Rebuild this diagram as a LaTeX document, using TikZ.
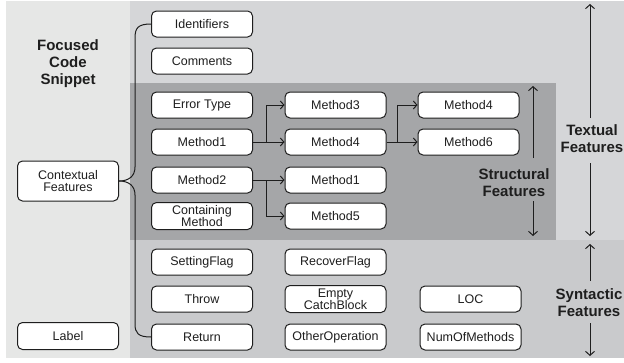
\documentclass[tikz,border=0pt]{standalone}
\usepackage{fontspec}
\setmainfont{Liberation Sans}
\usetikzlibrary{arrows.meta}
\definecolor{leftbg}{HTML}{E6E7E6}
\definecolor{textbg}{HTML}{D5D6D8}
\definecolor{structbg}{HTML}{A5A6A8}
\definecolor{syntbg}{HTML}{C9CACC}
\definecolor{ink}{HTML}{1E1E1E}
\begin{document}
\begin{tikzpicture}[x=1pt,y=-1pt,
  box/.style={draw=ink, fill=white, rounded corners=5pt, minimum width=101pt,
    minimum height=26pt, inner sep=1pt, align=center, text=ink,
    font=\fontsize{12.5}{12}\selectfont, line width=1pt},
  title/.style={align=center, text=ink, font=\fontsize{15}{17}\selectfont\bfseries},
  conn/.style={draw=ink, line width=1pt},
  arr/.style={conn, -{Straight Barb[length=3.5pt,width=8pt]}},
  biarr/.style={conn, line width=1pt, -{Straight Barb[length=4pt,width=9pt]}}]
\useasboundingbox (0,0) rectangle (624,362);
% backgrounds
\fill[leftbg] (6,1) rectangle (130,358);
\fill[textbg] (130,1) rectangle (624,240);
\fill[syntbg] (130,240) rectangle (624,358);
\fill[structbg] (130,83) rectangle (556,240);
% left column
\node[title] (focus) at (68,64) {Focused\\Code\\Snippet};
\node[box, minimum height=40pt] (ctx) at (68,181) {Contextual\\Features};
\node[box, minimum height=27pt] (lab) at (68,336) {Label};
% column 1
\node[box] (ident) at (202,24) {Identifiers};
\node[box] (comm) at (202,61) {Comments};
\node[box] (err) at (202,105) {Error Type};
\node[box] (ma) at (202,142) {Method1};
\node[box] (mb) at (202,180) {Method2};
\node[box, minimum height=27pt] (cont) at (202,216) {Containing\\Method};
\node[box] (setf) at (202,262) {SettingFlag};
\node[box] (thr) at (202,299) {Throw};
\node[box] (ret) at (202,337) {Return};
% column 2
\node[box] (mc) at (335.5,105) {Method3};
\node[box] (md) at (335.5,142) {Method4};
\node[box] (me) at (335.5,180) {Method1};
\node[box] (mf) at (335.5,216) {Method5};
\node[box] (recf) at (335.5,262) {RecoverFlag};
\node[box, minimum height=27pt] (empt) at (335.5,299) {Empty\\CatchBlock};
\node[box] (oth) at (335.5,337) {OtherOperation};
% column 3
\node[box] (mg) at (468.5,105) {Method4};
\node[box] (mh) at (468.5,142) {Method6};
\node[box] (loc) at (470.5,299) {LOC};
\node[box] (num) at (470.5,337) {NumOfMethods};
% brace
\draw[conn] (ident.west) .. controls (138,24) and (135,28) .. (135,38) -- (135,167)
  .. controls (135,176) and (129,181) .. (ctx.east);
\draw[conn] (ctx.east) .. controls (129,181) and (135,186) .. (135,195) -- (135,324)
  .. controls (135,333) and (138,337) .. (ret.west);
% structural arrows
\coordinate (j1) at (266,142);
\coordinate (j2) at (266,180);
\coordinate (j3) at (397,142);
\draw[conn] (ma.east) -- (j1);
\draw[arr] (j1) -- (md.west);
\draw[arr] (j1) |- (mc.west);
\draw[conn] (mb.east) -- (j2);
\draw[arr] (j2) -- (me.west);
\draw[arr] (j2) |- (mf.west);
\draw[conn] (md.east) -- (j3);
\draw[arr] (j3) -- (mh.west);
\draw[arr] (j3) |- (mg.west);
% feature labels
\node[title] (stru) at (514,183) {Structural\\Features};
\coordinate (su1) at (533,158);
\coordinate (su2) at (533,86);
\coordinate (sd1) at (533,201);
\coordinate (sd2) at (533,236);
\draw[biarr] (su1) -- (su2);
\draw[biarr] (sd1) -- (sd2);
\node[title] (text) at (592,139) {Textual\\Features};
\coordinate (tu1) at (590,118);
\coordinate (tu2) at (590,4);
\coordinate (td1) at (590,163);
\coordinate (td2) at (590,236);
\draw[biarr] (tu1) -- (tu2);
\draw[biarr] (td1) -- (td2);
\node[title] (synt) at (589,303) {Syntactic\\Features};
\coordinate (yu1) at (590,281);
\coordinate (yu2) at (590,244);
\coordinate (yd1) at (590,323);
\coordinate (yd2) at (590,356);
\draw[biarr] (yu1) -- (yu2);
\draw[biarr] (yd1) -- (yd2);
\end{tikzpicture}
\end{document}
